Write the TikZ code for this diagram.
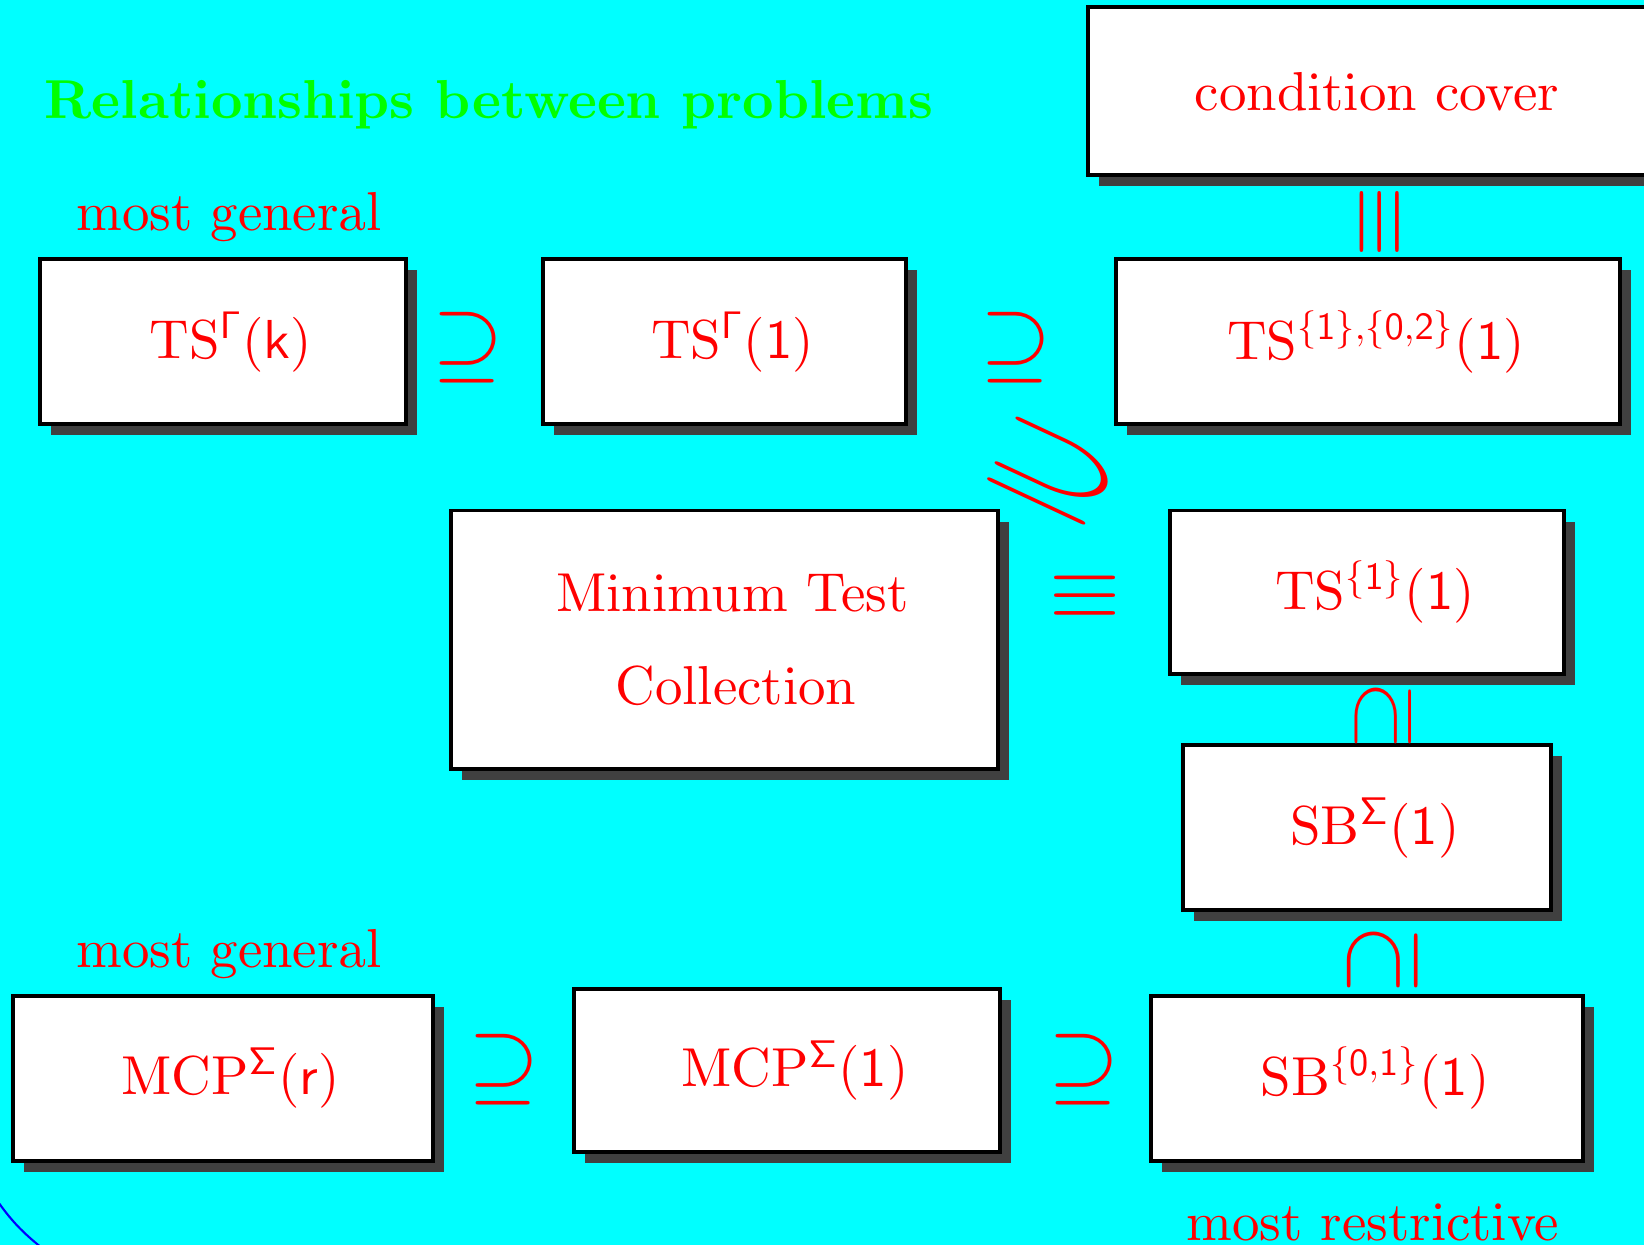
\documentclass[tikz,border=0pt]{standalone}
\usepackage{amsmath,amssymb}
\usepackage{graphicx}
\usetikzlibrary{shadows}
% cm fonts at design size 10, scaled freely
\DeclareFontFamily{OT1}{cmrten}{\hyphenchar\font45}
\DeclareFontShape{OT1}{cmrten}{m}{n}{<-> cmr10}{}
\DeclareFontShape{OT1}{cmrten}{bx}{n}{<-> cmbx10}{}
\DeclareFontShape{OT1}{cmr}{m}{n}{<-> cmr10}{}
\DeclareFontShape{OML}{cmm}{m}{it}{<-> cmmi10}{}
\DeclareFontShape{OMS}{cmsy}{m}{n}{<-> cmsy10}{}
\DeclareFontFamily{OT1}{cmss}{\hyphenchar\font45}
\DeclareFontShape{OT1}{cmss}{m}{n}{<-> cmss10}{}
\definecolor{slidecyan}{rgb}{0,1,1}
\definecolor{titlegreen}{rgb}{0,1,0}
\definecolor{shadowgray}{gray}{0.25}
\newcommand{\bigfs}{\fontencoding{OT1}\fontfamily{cmrten}\fontsize{15.6pt}{19pt}\selectfont}
\tikzset{
  probbox/.style={draw=black,line width=1.1pt,fill=white,text=red,inner sep=0pt,
    font=\bigfs,minimum height=1.65cm,
    execute at begin node={\hspace*{0.16cm}},
    drop shadow={shadow xshift=0.11cm,shadow yshift=-0.11cm,fill=shadowgray,opacity=1}},
  rel/.style={text=red,inner sep=0pt,font=\fontsize{26pt}{30pt}\selectfont},
  lbl/.style={text=red,anchor=base,inner sep=0pt,font=\bigfs},
}
\begin{document}
\begin{tikzpicture}[x=0.01cm,y=-0.01cm]
  \useasboundingbox (0,0) rectangle (1644,1245);
  \clip (0,0) rectangle (1644,1245);
  \fill[slidecyan] (0,0) rectangle (1644,1245);
  % corner of the slide frame
  \draw[blue,line width=0.6pt] (-4,1199) to[bend right=8] (42,1248);
  \node[anchor=base west,inner sep=0pt,text=titlegreen,font=\bigfs\bfseries] (title) at (44,118.5)
    {Relationships between problems};
  % upper chain
  \node[lbl] (gentop) at (229,230.7) {most general};
  \node[probbox,minimum width=3.66cm] (tsk) at (222.8,341.8) {TS$^{\mathsf{\Gamma}}(\mathsf{k})$};
  \node[probbox,minimum width=3.63cm] (tsone) at (724.5,341.8) {TS$^{\mathsf{\Gamma}}(\mathsf{1})$};
  \node[probbox,minimum width=5.03cm] (tsotz) at (1368,341.8)
    {TS$^{\{\mathsf{1}\},\{\mathsf{0},\mathsf{2}\}}(\mathsf{1})$};
  \node[probbox,minimum width=5.62cm,minimum height=1.68cm] (cover) at (1369,91) {condition cover};
  \node[probbox,minimum width=5.47cm,minimum height=2.58cm,align=center,
    font=\bigfs\fontsize{15.6pt}{26.4pt}\selectfont] (mtc) at (724.5,639.6)
    {Minimum Test\\\hspace*{0.07cm}Collection};
  \node[probbox,minimum width=3.94cm,minimum height=1.636cm] (tsset) at (1367,592.4)
    {TS$^{\{\mathsf{1}\}}(\mathsf{1})$};
  \node[probbox,minimum width=3.67cm] (sbsig) at (1367,827.8) {SB$^{\mathsf{\Sigma}}(\mathsf{1})$};
  % lower chain
  \node[lbl] (genbot) at (229,967.8) {most general};
  \node[probbox,minimum width=4.2cm] (mcpr) at (222.8,1078.4) {MCP$^{\mathsf{\Sigma}}(\mathsf{r})$};
  \node[probbox,minimum width=4.25cm,minimum height=1.636cm] (mcpone) at (787,1070.5)
    {MCP$^{\mathsf{\Sigma}}(\mathsf{1})$};
  \node[probbox,minimum width=4.32cm] (sbzo) at (1367,1078.4)
    {SB$^{\{\mathsf{0},\mathsf{1}\}}(\mathsf{1})$};
  \node[lbl] (restr) at (1373,1240) {most restrictive};
  % relations
  \node[rel] (r1) at (467.6,347.6) {$\supseteq$};
  \node[rel] (r2) at (1016,347.6) {$\supseteq$};
  \node[rel,rotate=-25] (r3) at (1053,472) {\scalebox{2}[1]{$\supseteq$}};
  \node[rel] (r4) at (1085,597) {$\equiv$};
  \node[rel,rotate=90] (r5) at (1381,222) {$\equiv$};
  \node[rel,rotate=90] (r6) at (1383,716) {\scalebox{1}[0.8]{$\supseteq$}};
  \node[rel,rotate=90] (r7) at (1383,960) {$\supseteq$};
  \node[rel] (r8) at (504.4,1069.5) {$\supseteq$};
  \node[rel] (r9) at (1084,1069.5) {$\supseteq$};
\end{tikzpicture}
\end{document}
